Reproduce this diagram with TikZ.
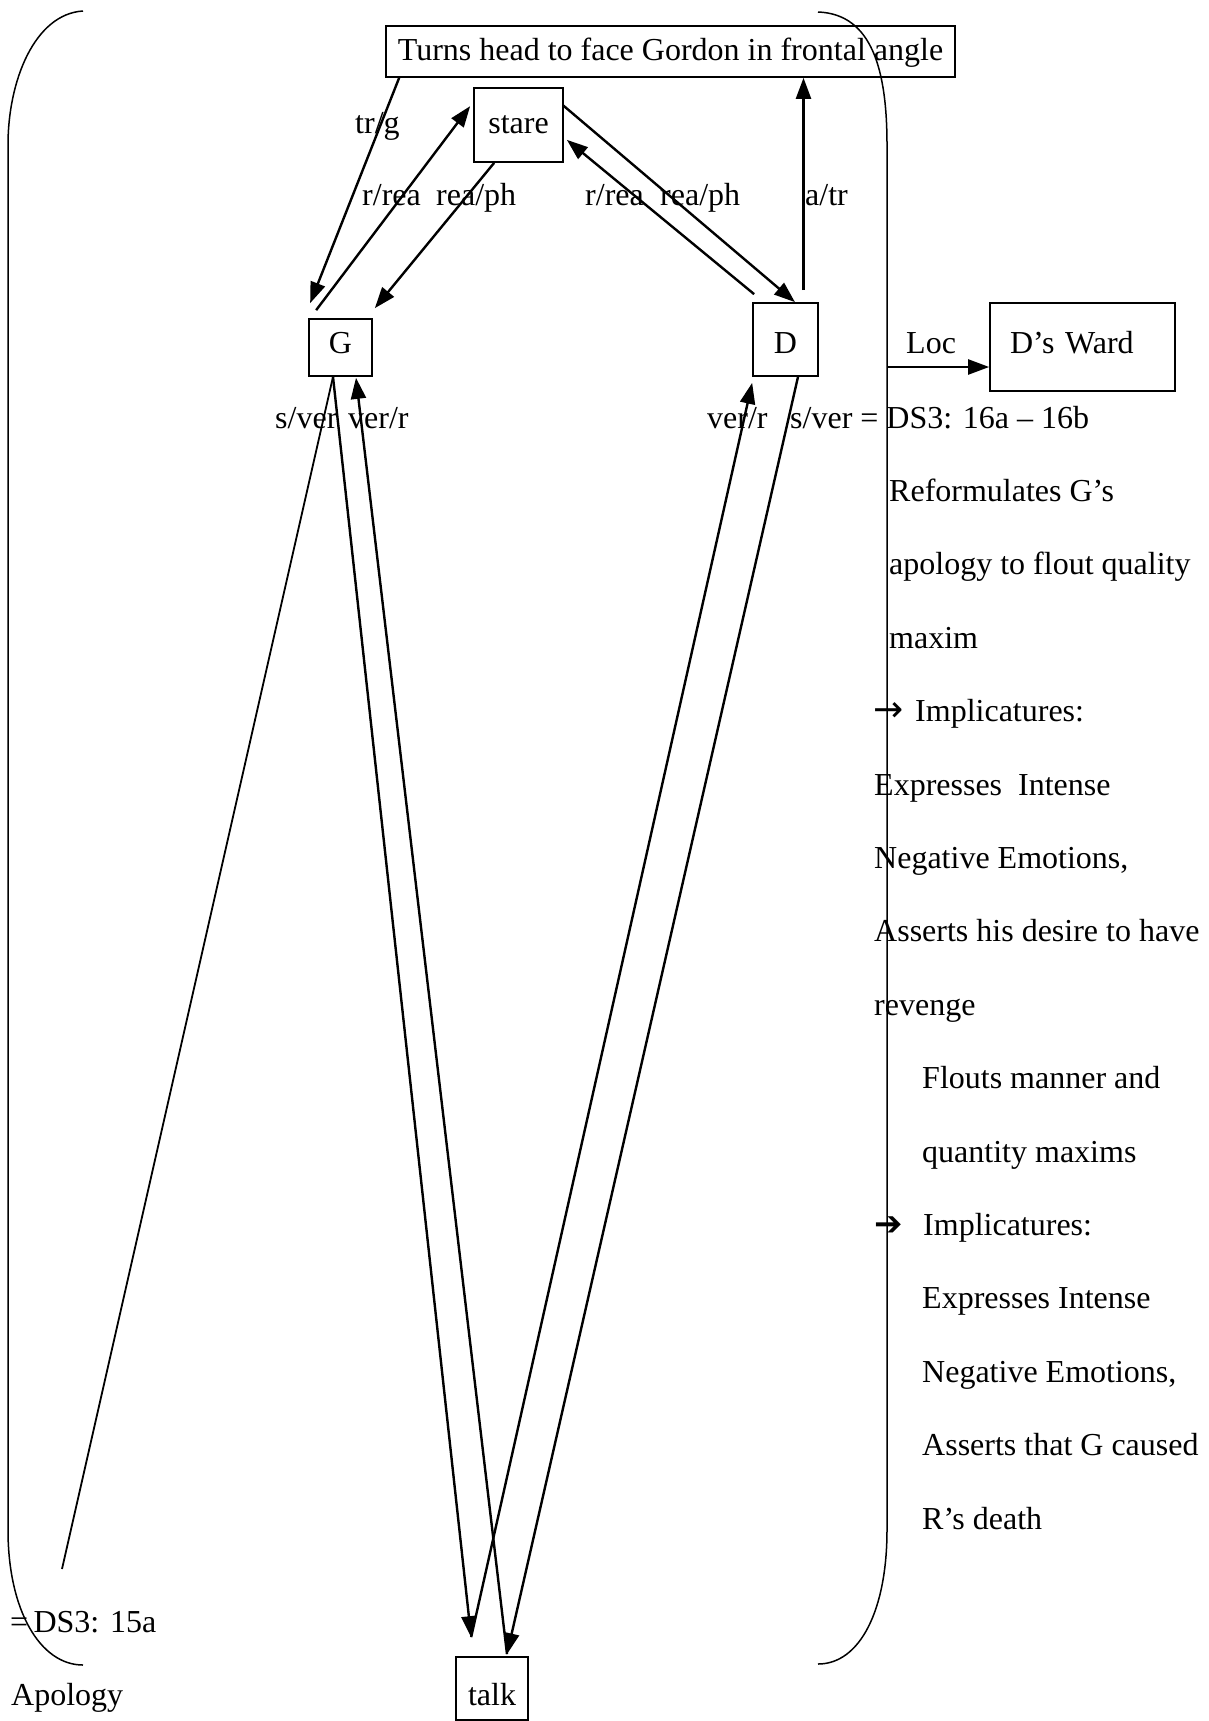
\documentclass[tikz,border=0pt]{standalone}
\usepackage{fontspec}
\setmainfont{Liberation Serif}
\newfontfamily\symfont{DejaVu Sans}
\usetikzlibrary{arrows.meta,calc}
\begin{document}
\begin{tikzpicture}[x=1pt,y=-1pt,
  every node/.style={font=\fontsize{32}{38}\selectfont},
  box/.style={draw, line width=1.7pt, inner sep=0pt},
  lbl/.style={anchor=base west, inner sep=0pt},
  conn/.style={line width=2.4pt, -{Triangle[length=21pt,width=15pt]}},
  plain/.style={line width=1.8pt},
  brace/.style={line width=1.5pt}]
\useasboundingbox (0,0) rectangle (1208,1721);

% boxes
\node[box, minimum width=569pt, minimum height=51pt, text height=22.4pt, text depth=5.4pt]
  (turn) at (670.5,51.5) {Turns head to face Gordon in frontal angle};
\node[box, minimum width=89pt, minimum height=74pt, text height=22.4pt, text depth=6.4pt]
  (stare) at (518.5,125) {stare};
\node[box, minimum width=63pt, minimum height=57pt, text height=22.4pt, text depth=9.6pt]
  (G) at (340.5,347.5) {G};
\node[box, minimum width=65pt, minimum height=73pt, text height=27pt, text depth=0pt]
  (D) at (785.5,339.5) {D};
\node[box, minimum width=185pt, minimum height=88pt, inner xsep=20pt, text width=145pt, align=left,
  text height=22.4pt, text depth=10.4pt] (ward) at (1082.5,347) {D’s Ward};
\node[box, minimum width=72pt, minimum height=63pt, text height=33pt, text depth=0pt]
  (talk) at (492,1688.5) {talk};

% the two large brackets
\draw[brace] (83,11) .. controls (35,14) and (8,80) .. (8,145) -- (8,1530)
  .. controls (8,1610) and (40,1665) .. (83,1665);
\draw[brace] (818,12) .. controls (872,14) and (887,70) .. (887,145) -- (887,1530)
  .. controls (887,1610) and (860,1664) .. (818,1664);

% edge labels
\node[lbl] (ltrg) at (355,133) {tr/g};
\node[lbl] (lrrea1) at (362,205) {r/rea};
\node[lbl] (lreaph1) at (436,205) {rea/ph};
\node[lbl] (lrrea2) at (585,205) {r/rea};
\node[lbl] (lreaph2) at (660,205) {rea/ph};
\node[lbl] (latr) at (805,205) {a/tr};
\node[lbl] (lsver1) at (275,428) {s/ver};
\node[lbl] (lverr1) at (348,428) {ver/r};
\node[lbl] (lverr2) at (707,428) {ver/r};
\node[lbl] (lloc) at (906,353) {Loc};

% right-hand commentary
\node[lbl] (t0) at (790,428) {s/ver = DS3: 16a – 16b};
\node[lbl] (t1) at (889,501.4) {Reformulates G’s};
\node[lbl] (t2) at (889,574.8) {apology to flout quality};
\node[lbl] (t3) at (889,648.2) {maxim};
\node[lbl] (a4) at (873,721.6) {\symfont\fontsize{36}{40}\selectfont →};
\node[lbl] (t4) at (915,721.6) {Implicatures:};
\node[lbl] (t5) at (874,795) {Expresses\ \ Intense};
\node[lbl] (t6) at (874,868.4) {Negative Emotions,};
\node[lbl] (t7) at (874,941.8) {Asserts his desire to have};
\node[lbl] (t8) at (874,1015.2) {revenge};
\node[lbl] (t9) at (922,1088.6) {Flouts manner and};
\node[lbl] (t10) at (922,1162) {quantity maxims};
\node[lbl] (a11) at (874,1235.4) {\symfont\fontsize{34}{40}\selectfont ➔};
\node[lbl] (t11) at (923,1235.4) {Implicatures:};
\node[lbl] (t12) at (922,1308.8) {Expresses Intense};
\node[lbl] (t13) at (922,1382.2) {Negative Emotions,};
\node[lbl] (t14) at (922,1455.6) {Asserts that G caused};
\node[lbl] (t15) at (922,1529) {R’s death};

% left-hand commentary
\node[lbl] (ds3) at (10,1632) {=\,DS3: 15a};
\node[lbl] (apol) at (11,1705) {Apology};

% connectors
\coordinate (P1) at ($(talk.north west)+(16,-19)$);
\coordinate (P2) at ($(talk.north)+(15,-2)$);
\coordinate (ds3end) at (62,1569);
\coordinate (Dtop) at ($(D.north)+(18,-12)$);
\coordinate (locfrom) at (888,367);

\draw[conn] ($(turn.south west)+(14,0)$) -- ($(G.north west)+(2,-15)$);
\draw[conn] ($(G.north west)+(8,-8)$) -- ($(stare.north west)+(-3,19)$);
\draw[conn] ($(stare.south west)+(21,0)$) -- ($(G.north east)+(2,-10)$);
\draw[conn] ($(stare.north east)+(-1,18)$) -- ($(D.north)+(9.5,0)$);
\draw[conn] ($(D.north west)+(2,-8)$) -- ($(stare.south east)+(3,-23)$);
\draw[conn] (Dtop) -- (Dtop |- turn.south);
\draw[conn] (locfrom) -- (locfrom -| ward.west);

\draw[plain] ($(G.south)+(-7.5,0)$) -- (ds3end);
\draw[conn] ($(G.south)+(-7.5,0)$) -- (P1);
\draw[conn] (P2) -- ($(G.south)+(15.5,1)$);
\draw[conn] (P1) -- ($(D.south west)+(0,6)$);
\draw[conn] ($(D.south)+(12.5,0)$) -- (P2);
\end{tikzpicture}
\end{document}
